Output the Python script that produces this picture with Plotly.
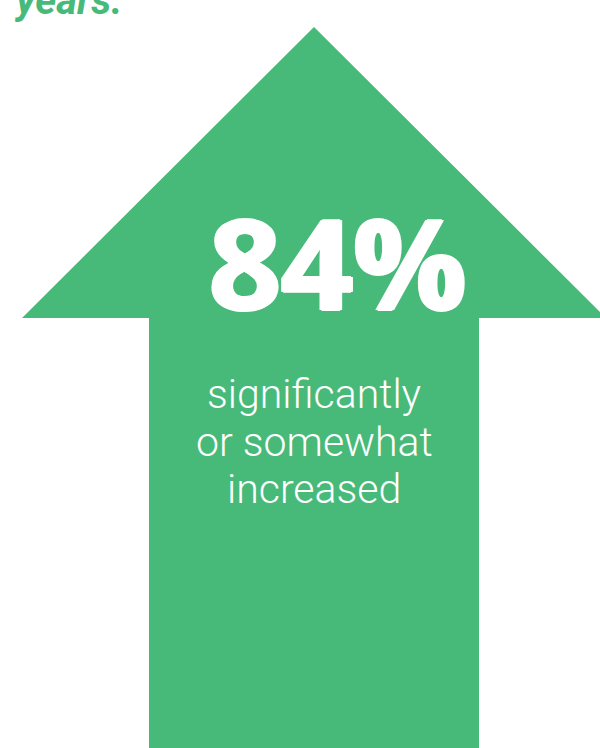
import plotly.graph_objects as go

# Data
value_label = "84%"
description_lines = ["significantly", "or somewhat", "increased"]
header_tail = "years."

# Arrow outline (pixel-space coordinates of the infographic)
arrow_x = [314, 606, 479, 479, 149, 149, 22, 314]
arrow_y = [27, 318, 318, 760, 760, 318, 318, 27]

# Text anchor positions
line_y = [394, 442, 489]

GREEN = "#47BA79"

fig = go.Figure()
fig.add_trace(go.Scatter(
    x=arrow_x, y=arrow_y, mode="lines", fill="toself",
    fillcolor=GREEN, line=dict(color=GREEN, width=0),
    hoverinfo="skip", showlegend=False,
))

outline = ",".join(f"{dx}px {dy}px 0 white" for dx, dy in
                   [(1, 0), (-1, 0), (2, 0), (-2, 0), (0, 1), (0, -1)])
fig.add_annotation(
    x=338, y=261, xref="x", yref="y", text=value_label, showarrow=False,
    font=dict(family="Open Sans", size=126, color="white", weight=700, shadow=outline),
    xanchor="center", yanchor="middle",
)
for txt, yy in zip(description_lines, line_y):
    fig.add_annotation(
        x=314, y=yy, xref="x", yref="y", text=txt,
        showarrow=False, align="center",
        font=dict(family="Roboto", size=41, color="white", weight=300),
        xanchor="center", yanchor="middle",
    )
fig.add_annotation(
    x=12, y=26, xref="x", yref="y", text="<i>" + header_tail + "</i>",
    showarrow=False,
    font=dict(family="Roboto", size=40, color=GREEN, weight=700),
    xanchor="left", yanchor="bottom",
)

fig.update_xaxes(range=[0, 600], visible=False, fixedrange=True)
fig.update_yaxes(range=[748, 0], visible=False, fixedrange=True)
fig.update_layout(
    width=600, height=748, margin=dict(l=0, r=0, t=0, b=0),
    plot_bgcolor="white", paper_bgcolor="white",
)
fig.write_html("out.html", config={"displayModeBar": False},
               post_script="document.body.style.margin='0';")
